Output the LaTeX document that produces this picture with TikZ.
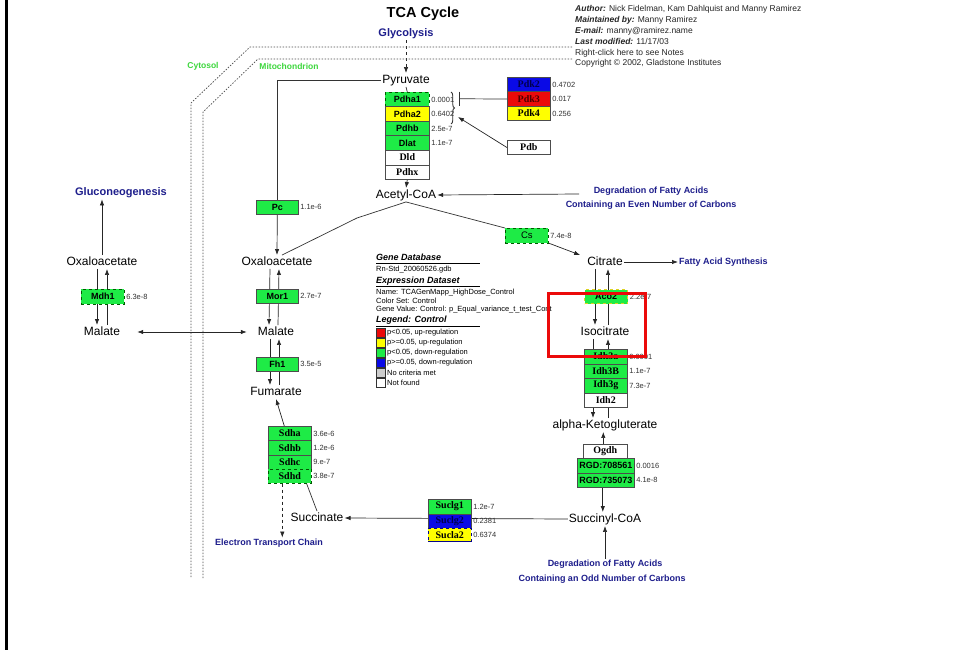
\documentclass[tikz,border=0pt]{standalone}
\usepackage{fontspec}
\setmainfont{Liberation Sans}
\newfontfamily\gserif{Liberation Serif}
\usetikzlibrary{arrows.meta,decorations.pathreplacing,backgrounds,calc}
\definecolor{gg}{RGB}{30,235,70}
\definecolor{bb}{RGB}{10,10,230}
\definecolor{rr}{RGB}{235,10,10}
\definecolor{yy}{RGB}{255,255,0}
\definecolor{pblue}{RGB}{30,30,140}
\definecolor{mgreen}{RGB}{60,215,60}
\definecolor{lgray}{RGB}{205,205,205}
\begin{document}
\begin{tikzpicture}[x=1pt,y=-1pt,
  gene/.style={draw=black!70, line width=0.6pt, minimum width=43pt, minimum height=14.5pt, inner sep=0pt, anchor=north west, font=\fontsize{9}{10}\selectfont\bfseries},
  gs/.style={gene, font=\gserif\fontsize{10}{11}\selectfont\bfseries},
  val/.style={anchor=west, inner sep=1.5pt, font=\fontsize{7.5}{8}\selectfont, text=black!80},
  met/.style={inner sep=1pt, text height=9pt, text depth=2.5pt, font=\fontsize{12}{13}\selectfont},
  pwy/.style={inner sep=1pt, text=pblue, font=\fontsize{9}{10}\selectfont\bfseries},
  arr/.style={-{Latex[length=6pt,width=4.4pt]}, black!85, line width=0.7pt},
  ln/.style={black!80, line width=0.7pt},
  memb/.style={black!70, line width=0.7pt, dash pattern=on 1.5pt off 1.5pt},
  leg/.style={anchor=west, inner sep=0pt, font=\fontsize{7.5}{8}\selectfont},
  legh/.style={anchor=west, inner sep=0pt, font=\fontsize{9}{10}\selectfont\bfseries\itshape},
  sw/.style={draw=black!80, line width=0.5pt, minimum size=9pt, inner sep=0pt, anchor=north west}
]
\path[use as bounding box] (0,0) rectangle (953,650);

% membranes
\draw[memb] (572,47) -- (250,47) -- (191,103) -- (191,578);
\draw[memb] (572,59) -- (258,59) -- (203,112) -- (203,578);
\node[text=mgreen, font=\fontsize{8.5}{9}\selectfont\bfseries] (cyto) at (203,66) {Cytosol};
\node[text=mgreen, font=\fontsize{8.5}{9}\selectfont\bfseries] (mito) at (289,66) {Mitochondrion};

% title and header
\node[font=\fontsize{14.5}{16}\selectfont\bfseries] (title) at (423,14) {TCA Cycle};
\node[anchor=north west, align=left, inner sep=0pt, font=\fontsize{8.5}{10.8}\selectfont, text=black!85] (hdr) at (575,5.5)
 {\textbf{\textit{Author:}} Nick Fidelman, Kam Dahlquist and Manny Ramirez\\
  \textbf{\textit{Maintained by:}} Manny Ramirez\\
  \textbf{\textit{E-mail:}} manny@ramirez.name\\
  \textbf{\textit{Last modified:}} 11/17/03\\
  Right-click here to see Notes\\
  Copyright \textcopyright{} 2002, Gladstone Institutes};

% pathway labels
\node[pwy, font=\fontsize{11}{12}\selectfont\bfseries] (glyc) at (406,34) {Glycolysis};
\node[pwy, font=\fontsize{11}{12}\selectfont\bfseries] (gluco) at (121,193) {Gluconeogenesis};
\node[pwy] (deven1) at (651,191) {Degradation of Fatty Acids};
\node[pwy] (deven2) at (651,205) {Containing an Even Number of Carbons};
\node[pwy, anchor=west] (fas) at (678,262) {Fatty Acid Synthesis};
\node[pwy] (etc) at (269,543) {Electron Transport Chain};
\node[pwy] (dodd1) at (605,564) {Degradation of Fatty Acids};
\node[pwy] (dodd2) at (602,579) {Containing an Odd Number of Carbons};

% metabolites
\node[met] (pyr) at (406,80) {Pyruvate};
\node[met] (acoa) at (406,195) {Acetyl-CoA};
\node[met] (oaaL) at (102,262) {Oxaloacetate};
\node[met] (malL) at (102,332) {Malate};
\node[met] (oaaR) at (277,262) {Oxaloacetate};
\node[met] (malR) at (276,332) {Malate};
\node[met] (fum) at (276,392) {Fumarate};
\node[met] (succ) at (317,518) {Succinate};
\node[met] (sucoa) at (605,519) {Succinyl-CoA};
\node[met] (akg) at (605,425) {alpha-Ketogluterate};
\node[met] (iso) at (605,332) {Isocitrate};
\node[met] (cit) at (605,262) {Citrate};

% PDH complex
\node[gene, minimum width=44pt, fill=gg, draw=green!35!black, dashed] (pdha1) at (385,92) {Pdha1};
\node[gene, minimum width=44pt, fill=yy] (pdha2) at (385,106.5) {Pdha2};
\node[gene, minimum width=44pt, fill=gg] (pdhb) at (385,121) {Pdhb};
\node[gene, minimum width=44pt, fill=gg] (dlat) at (385,135.5) {Dlat};
\node[gs, minimum width=44pt, fill=white] (dld) at (385,150) {Dld};
\node[gs, minimum width=44pt, fill=white] (pdhx) at (385,164.5) {Pdhx};
\node[val] (vpdha1) at (pdha1.east) {0.0001};
\node[val] (vpdha2) at (pdha2.east) {0.6402};
\node[val] (vpdhb) at (pdhb.east) {2.5e-7};
\node[val] (vdlat) at (dlat.east) {1.1e-7};

% PDK
\node[gs, fill=bb, text=blue!30!black] (pdk2) at (507,77) {Pdk2};
\node[gs, fill=rr, text=red!30!black] (pdk3) at (507,91.5) {Pdk3};
\node[gs, fill=yy] (pdk4) at (507,106) {Pdk4};
\node[val] (vpdk2) at (pdk2.east) {0.4702};
\node[val] (vpdk3) at (pdk3.east) {0.017};
\node[val] (vpdk4) at (pdk4.east) {0.256};
\node[gs, fill=white] (pdb) at (507,140) {Pdb};

% other enzymes
\node[gene, minimum width=42pt, minimum height=14pt, fill=gg] (pc) at (256,200) {Pc};
\node[val] (vpc) at (pc.east) {1.1e-6};
\node[gene, fill=gg, draw=green!35!black, dashed] (mdh1) at (81,289) {Mdh1};
\node[val] (vmdh1) at (mdh1.east) {6.3e-8};
\node[gene, minimum width=42pt, minimum height=14pt, fill=gg] (mor1) at (256,289) {Mor1};
\node[val] (vmor1) at (mor1.east) {2.7e-7};
\node[gene, minimum width=42pt, minimum height=14pt, fill=gg] (fh1) at (256,357) {Fh1};
\node[val] (vfh1) at (fh1.east) {3.5e-5};
\node[gene, fill=gg, draw=green!35!black, dashed, font=\fontsize{9.5}{10}\selectfont] (cs) at (505,228) {Cs};
\node[val] (vcs) at (cs.east) {7.4e-8};
\node[gene, minimum height=14pt, fill=gg, draw=yellow!85!black, dashed, line width=1.2pt] (aco2) at (584,289) {Aco2};
\node[val] (vaco2) at (aco2.east) {2.2e-7};

% IDH
\node[gs, fill=gg] (idh3a) at (584,349) {Idh3a};
\node[gs, fill=gg] (idh3b) at (584,363.5) {Idh3B};
\node[gs, fill=gg] (idh3g) at (584,378) {Idh3g};
\node[gs, fill=white] (idh2) at (584,392.5) {Idh2};
\node[val] (vidh3a) at (idh3a.east) {0.0001};
\node[val] (vidh3b) at (idh3b.east) {1.1e-7};
\node[val] (vidh3g) at (idh3g.east) {7.3e-7};

% OGDH
\node[gs, minimum width=44pt, minimum height=14pt, fill=white] (ogdh) at (583,444) {Ogdh};
\node[gene, minimum width=57pt, fill=gg] (rgd1) at (577,458) {RGD:708561};
\node[gene, minimum width=57pt, fill=gg] (rgd2) at (577,472.5) {RGD:735073};
\node[val] (vrgd1) at (rgd1.east) {0.0016};
\node[val] (vrgd2) at (rgd2.east) {4.1e-8};

% SDH
\node[gs, minimum height=14.25pt, fill=gg] (sdha) at (268,426) {Sdha};
\node[gs, minimum height=14.25pt, fill=gg] (sdhb) at (268,440.25) {Sdhb};
\node[gs, minimum height=14.25pt, fill=gg] (sdhc) at (268,454.5) {Sdhc};
\node[gs, minimum height=14.25pt, fill=gg, draw=green!35!black, dashed] (sdhd) at (268,468.75) {Sdhd};
\node[val] (vsdha) at (sdha.east) {3.6e-6};
\node[val] (vsdhb) at (sdhb.east) {1.2e-6};
\node[val] (vsdhc) at (sdhc.east) {9.e-7};
\node[val] (vsdhd) at (sdhd.east) {3.8e-7};

% SUCL
\node[gs, fill=gg] (suclg1) at (428,499) {Suclg1};
\node[gs, fill=bb, text=blue!30!black] (suclg2) at (428,513.5) {Suclg2};
\node[gs, minimum height=13pt, fill=yy, draw=bb!60!black, dashed] (sucla2) at (428,528) {Sucla2};
\draw[bb!60!black, line width=1.5pt] (sucla2.south west) -- (sucla2.south east);
\node[val] (vsuclg1) at (suclg1.east) {1.2e-7};
\node[val] (vsuclg2) at (suclg2.east) {0.2381};
\node[val] (vsucla2) at (sucla2.east) {0.6374};

% legend
\node[legh] (lgdb) at (376,257) {Gene Database};
\draw[line width=1pt] (376,263) -- (480,263);
\node[leg] (lgdbv) at (376,269.5) {Rn-Std\_20060526.gdb};
\node[legh] (lged) at (376,281) {Expression Dataset};
\draw[line width=1pt] (376,286.5) -- (480,286.5);
\node[leg] (lgname) at (376,292.5) {Name: TCAGenMapp\_HighDose\_Control};
\node[leg] (lgcs) at (376,300.8) {Color Set: Control};
\node[leg] (lggv) at (376,309.3) {Gene Value: Control: p\_Equal\_variance\_t\_test\_Cont};
\node[legh] (lglc) at (376,320.5) {Legend: Control};
\draw[line width=1pt] (376,326) -- (480,326);
\node[sw, fill=rr] (sw1) at (376,328) {};
\node[sw, fill=yy] (sw2) at (376,338) {};
\node[sw, fill=gg] (sw3) at (376,348) {};
\node[sw, fill=bb] (sw4) at (376,358) {};
\node[sw, fill=lgray] (sw5) at (376,368) {};
\node[sw, fill=white] (sw6) at (376,378) {};
\node[leg] (l1) at ([xshift=1.5pt]sw1.east) {p<0.05, up-regulation};
\node[leg] (l2) at ([xshift=1.5pt]sw2.east) {p>=0.05, up-regulation};
\node[leg] (l3) at ([xshift=1.5pt]sw3.east) {p<0.05, down-regulation};
\node[leg] (l4) at ([xshift=1.5pt]sw4.east) {p>=0.05, down-regulation};
\node[leg] (l5) at ([xshift=1.5pt]sw5.east) {No criteria met};
\node[leg] (l6) at ([xshift=1.5pt]sw6.east) {Not found};

\coordinate (inh) at (459,98.75);
\coordinate (brc) at (458,117);
\coordinate (j1) at (357,218);
\coordinate (evenend) at (579,194);

% connectors (behind boxes)
\begin{pgfonlayer}{background}
\fill[white] (0,0) rectangle (953,650);
\fill[black] (5,0) rectangle (8,650);
\draw[arr, dashed] (glyc.south) -- (pyr.north);
\draw[ln] (pyr.south) -- (pdha1.north);
\draw[ln] (pyr.west) -- (pyr.west -| pc.north) -- (pc.north);
\draw[arr] (pc.south) -- (oaaR.north);
\draw[arr] (pdhx.south) -- (acoa.north);
\draw[ln] (pdk3.west) -- (inh);
\draw[ln, line width=0.9pt] ([yshift=7pt]inh) -- ([yshift=-7pt]inh);
\draw[ln, line width=0.9pt, decorate, decoration={brace, amplitude=3.5pt}] (451,92) -- (451,124);
\draw[arr] (pdb.west) -- (brc);
\draw[arr] (evenend) -- (acoa.east);
\draw[ln] ([xshift=5pt]oaaR.north) -- (j1) -- (acoa.south);
\draw[ln] (acoa.south) -- (cs.north west);
\draw[arr] (cs.south east) -- ([xshift=-6pt]cit.north west);
\draw[arr] (cit.east) -- (fas.west);
\draw[arr] ([xshift=-10pt]cit.south) -- ([xshift=-10pt]iso.north);
\draw[arr] ([xshift=3pt]iso.north) -- ([xshift=3pt]cit.south);
\draw[arr] ([xshift=-12pt]iso.south) -- ([xshift=-12pt]akg.north);
\draw[arr] ([xshift=3pt]akg.north) -- ([xshift=3pt]iso.south);
\draw[arr] ([xshift=-2pt]ogdh.north) -- ([xshift=-2pt]ogdh.north |- akg.south);
\draw[arr] ([xshift=-3pt]rgd2.south) -- ([xshift=-3pt]rgd2.south |- sucoa.north);
\draw[arr] (dodd1.north) -- (sucoa.south);
\draw[arr] (sucoa.west) -- (succ.east);
\draw[ln] (succ.north) -- ([xshift=-5pt]sdhd.south east);
\draw[arr] ([xshift=-5.5pt]sdha.north) -- (fum.south);
\draw[arr, dashed] ([xshift=-7.5pt]sdhd.south) -- ([xshift=-7.5pt]sdhd.south |- etc.north);
\draw[arr] ([xshift=-6pt]malR.south) -- ([xshift=-6pt]fum.north);
\draw[arr] ([xshift=3pt]fum.north) -- ([xshift=3pt]malR.south);
\draw[arr] ([xshift=-7pt]oaaR.south) -- ([xshift=-7pt]malR.north);
\draw[arr] ([xshift=2pt]malR.north) -- ([xshift=2pt]oaaR.south);
\draw[arr] ([xshift=-5pt]oaaL.south) -- ([xshift=-5pt]malL.north);
\draw[arr] ([xshift=5pt]malL.north) -- ([xshift=5pt]oaaL.south);
\draw[arr] (oaaL.north) -- (oaaL.north |- gluco.south);
\draw[{Latex[length=6pt,width=4.4pt]}-{Latex[length=6pt,width=4.4pt]}, black!85, line width=0.7pt] ([xshift=16pt]malL.east) -- ([xshift=-10pt]malR.west);
\end{pgfonlayer}

% highlight
\draw[rr, line width=3pt] (548,293) rectangle (645,356);
\end{tikzpicture}
\end{document}
